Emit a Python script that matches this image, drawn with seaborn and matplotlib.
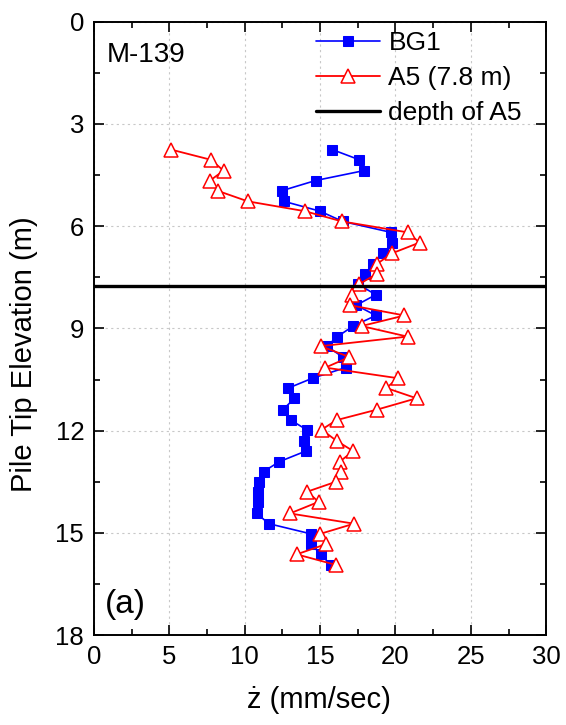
import numpy as np
import pandas as pd
import matplotlib
matplotlib.use("Agg")
import matplotlib.pyplot as plt
import seaborn as sns
from matplotlib.ticker import MultipleLocator

# Pile tip elevation (m) for each reading
elevation = [3.75, 4.05, 4.37, 4.66, 4.96, 5.27, 5.56, 5.86, 6.18, 6.48,
             6.80, 7.10, 7.40, 7.70, 8.01, 8.32, 8.62, 8.93, 9.24, 9.52,
             9.84, 10.15, 10.46, 10.75, 11.05, 11.38, 11.69, 11.97, 12.30, 12.60,
             12.91, 13.20, 13.50, 13.79, 14.09, 14.43, 14.73, 15.03, 15.33, 15.63,
             15.94]

# z-dot (mm/sec)
bg1 = [15.8, 17.6, 17.9, 14.7, 12.45, 12.6, 15.0, 16.5, 19.7, 19.8,
       19.2, 18.5, 18.0, 17.5, 18.7, 17.4, 18.7, 17.2, 16.15, 15.45,
       16.5, 16.7, 14.5, 12.9, 13.3, 12.55, 13.05, 14.1, 13.95, 14.05,
       12.3, 11.25, 10.95, 10.85, 10.85, 10.8, 11.6, 14.4, 14.4, 15.05,
       15.7]
a5 = [5.1, 7.75, 8.6, 7.7, 8.2, 10.2, 14.0, 16.45, 20.8, 21.6,
      19.75, 18.8, 18.75, 17.6, 17.1, 17.0, 20.6, 17.75, 20.8, 15.05,
      16.95, 15.35, 20.15, 19.4, 21.4, 18.8, 16.1, 15.1, 16.1, 17.2,
      16.3, 16.4, 16.05, 14.15, 14.9, 13.0, 17.25, 15.0, 15.4, 13.45,
      16.05]
a5_depth = 7.75

df = pd.DataFrame({'Elevation': elevation, 'BG1': bg1, 'A5': a5})

sns.set_style("ticks", {'axes.edgecolor': 'black', 'xtick.color': 'black',
                        'ytick.color': 'black', 'axes.labelcolor': 'black',
                        'text.color': 'black'})
plt.rcParams['font.family'] = ['Liberation Sans', 'DejaVu Sans']
plt.rcParams['font.size'] = 18

fig = plt.figure(figsize=(5.66, 7.25), dpi=100)
ax = fig.add_axes([0.166, 0.124, 0.799, 0.846])

sns.lineplot(data=df, x='BG1', y='Elevation', sort=False, estimator=None,
             color='#0000ff', lw=1.2, marker='s', markersize=7,
             markeredgecolor='#0000ff', markerfacecolor='#0000ff',
             label='BG1', ax=ax)
sns.lineplot(data=df, x='A5', y='Elevation', sort=False, estimator=None,
             color='#ff0000', lw=1.3, marker='^', markersize=9.5,
             markeredgecolor='#ff0000', markerfacecolor='white',
             markeredgewidth=1.1, label='A5 (7.8 m)', ax=ax)
ax.axhline(a5_depth, color='black', lw=2.4, label='depth of A5')

ax.set_xlim(0, 30)
ax.set_ylim(18, 0)
ax.xaxis.set_major_locator(MultipleLocator(5))
ax.xaxis.set_minor_locator(MultipleLocator(2.5))
ax.yaxis.set_major_locator(MultipleLocator(3))
ax.yaxis.set_minor_locator(MultipleLocator(1.5))
ax.tick_params(which='both', direction='in', top=True, right=True,
               labelsize=18.5, width=1.2, pad=7, colors='black')
ax.tick_params(which='major', length=7)
ax.tick_params(which='minor', length=4)
ax.grid(True, which='major', ls=(0, (2, 3)), color='#c8c8c8', lw=0.8)
for s in ax.spines.values():
    s.set_linewidth(1.4)
    s.set_color('black')

ax.set_xlabel('ż (mm/sec)', fontsize=21)
ax.set_ylabel('Pile Tip Elevation (m)', fontsize=21)
ax.xaxis.set_label_coords(0.498, -0.0825)
ax.yaxis.set_label_coords(-0.124, 0.458)

ax.text(0.028, 0.967, 'M-139', transform=ax.transAxes, fontsize=20, va='top')
ax.text(0.025, 0.025, '(a)', transform=ax.transAxes, fontsize=24, va='bottom')

ax.legend(loc='upper left', bbox_to_anchor=(0.49, 0.985), frameon=False,
          fontsize=19, handlelength=2.46, labelspacing=0.42,
          handletextpad=0.3, borderaxespad=0, borderpad=0)

fig.savefig('out.png', dpi=100)
